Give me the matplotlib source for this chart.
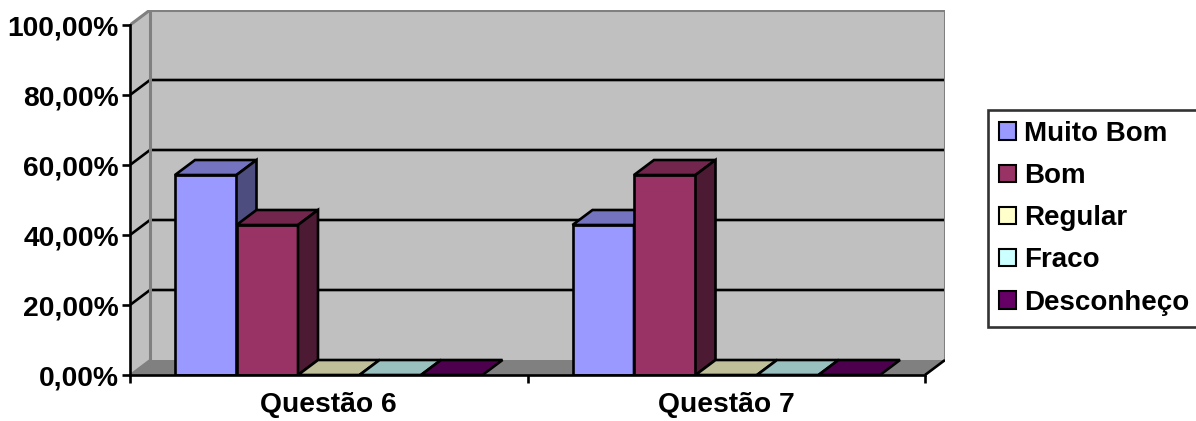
import matplotlib
matplotlib.use("Agg")
import matplotlib.pyplot as plt
from matplotlib.patches import Polygon, Patch
from matplotlib.ticker import FuncFormatter
import numpy as np

# data (fractions of 1)
categories = ["Questão 6", "Questão 7"]
series = ["Muito Bom", "Bom", "Regular", "Fraco", "Desconheço"]
muito_bom = [0.5714, 0.4286]
bom = [0.4286, 0.5714]
regular = [0.0, 0.0]
fraco = [0.0, 0.0]
desconheco = [0.0, 0.0]
y_ticks = [0.0, 0.2, 0.4, 0.6, 0.8, 1.0]

FRONT = ["#9999FF", "#993366", "#FFFFCC", "#CCFFFF", "#660066"]
WALL, FLOOR, EDGE = "#C0C0C0", "#808080", "#808080"
FONT = "Liberation Sans"
plt.rcParams.update({"font.family": FONT, "font.weight": "bold"})
LW = 1.9


def shade(hex_color, k):
    r, g, b = matplotlib.colors.to_rgb(hex_color)
    return (r * k, g * k, b * k)


W, H = 1196, 421
fig = plt.figure(figsize=(W / 100, H / 100), dpi=100)
ax = fig.add_axes([130 / W, 46 / H, 815 / W, 365 / H])
ax.patch.set_visible(False)

CAT = 397.5                    # pixels per category
DX, DY = 20 / CAT, 15 / 350    # 3d depth offset in data units
ncat = len(categories)
ax.set_xlim(0, 815 / CAT)
ax.set_ylim(0, 365 / 350)

# walls + floor
ax.add_patch(Polygon([(DX, DY), (ncat + DX, DY), (ncat + DX, 1 + DY), (DX, 1 + DY)],
                     fc=WALL, ec="none", zorder=0))
ax.add_patch(Polygon([(0, 0), (DX, DY), (DX, 1 + DY), (0, 1)], fc=WALL, ec="none", zorder=0))
ax.add_patch(Polygon([(0, 0), (ncat, 0), (ncat + DX, DY), (DX, DY)], fc=FLOOR, ec="none", zorder=0.5))
for v in y_ticks[1:-1]:
    ax.plot([0, DX, ncat + DX], [v, v + DY, v + DY], color="black", lw=LW, zorder=1)
ax.plot([DX, DX, ncat + DX, ncat + DX], [DY, 1 + DY, 1 + DY, DY], color=EDGE, lw=2.2, zorder=1)
ax.plot([0, DX], [1, 1 + DY], color=EDGE, lw=2.2, zorder=1)
ax.plot([0, DX], [0, DY], color=EDGE, lw=1.5, zorder=1)
ax.plot([ncat, ncat + DX], [0, DY], color="black", lw=LW, zorder=1, solid_capstyle="butt")

# bars with top and side faces
BW = 61.5 / CAT
MARGIN = (1 - len(series) * BW) / 2
values = [muito_bom, bom, regular, fraco, desconheco]
for j, (name, vals) in enumerate(zip(series, values)):
    x0 = np.arange(ncat) + MARGIN + j * BW
    z = 2 + j
    ax.bar(x0, vals, width=BW, align="edge", color=FRONT[j], edgecolor="black",
           lw=LW, zorder=z)
    for xi, v in zip(x0, vals):
        ax.add_patch(Polygon([(xi, v), (xi + BW, v), (xi + BW + DX, v + DY), (xi + DX, v + DY)],
                             fc=shade(FRONT[j], 0.75), ec="black", lw=LW, zorder=z))
        if v > 0:
            ax.add_patch(Polygon([(xi + BW, 0), (xi + BW + DX, DY), (xi + BW + DX, v + DY), (xi + BW, v)],
                                 fc=shade(FRONT[j], 0.5), ec="black", lw=LW, zorder=z))

# axes: front spines, ticks, labels
for s in ("top", "right"):
    ax.spines[s].set_visible(False)
ax.spines["left"].set_bounds(0, 1)
ax.spines["bottom"].set_bounds(0, ncat)
for s in ("left", "bottom"):
    ax.spines[s].set_linewidth(LW)
    ax.spines[s].set_zorder(10)
ax.set_yticks(y_ticks)
ax.yaxis.set_major_formatter(FuncFormatter(lambda v, _: f"{v * 100:.2f}%".replace(".", ",")))
ax.tick_params(axis="y", length=6, width=LW, pad=2, labelsize=20.3)
ax.set_xticks(np.arange(ncat + 1))
ax.set_xticklabels([])
ax.tick_params(axis="x", which="major", length=6, width=LW)
ax.set_xticks(np.arange(ncat) + 0.5, minor=True)
ax.set_xticklabels(categories, minor=True, fontsize=20.3)
ax.tick_params(axis="x", which="minor", length=0, pad=12)

handles = [Patch(fc=c, ec="black", lw=1.5) for c in FRONT]
leg = fig.legend(handles, series, loc="upper left", bbox_to_anchor=(988 / W, 1 - 110 / H),
                 fontsize=20, frameon=True, fancybox=False, edgecolor="black",
                 borderaxespad=0, handlelength=0.6, handleheight=0.6, handletextpad=0.3,
                 labelspacing=0.58, borderpad=0.4)
leg.get_frame().set_linewidth(LW)

fig.savefig("out.png", dpi=100)
